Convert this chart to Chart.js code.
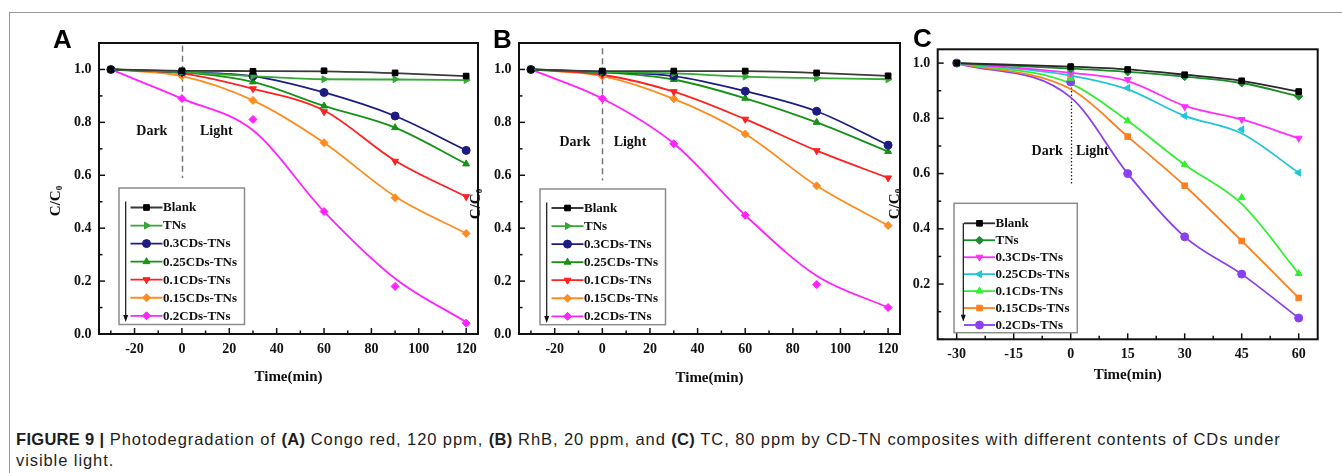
<!DOCTYPE html>
<html>
<head>
<meta charset="utf-8">
<title>Figure 9</title>
<script src="https://cdn.jsdelivr.net/npm/chart.js@4.4.1/dist/chart.umd.min.js"></script>
<style>
  html, body { margin: 0; padding: 0; background: #fff; }
  body { width: 1342px; height: 473px; position: relative; overflow: hidden; }
  #frame { position: absolute; left: 9px; top: 12px; right: 0; bottom: 0;
           border-top: 1.5px solid #9a9a9a; border-left: 1.5px solid #9a9a9a; }
  canvas { position: absolute; top: 0; }
  .letter { position: absolute; font: bold 26px/26px "Liberation Sans", Arial, sans-serif; color: #000; }
  #caption { position: absolute; left: 16px; top: 429px; font: 16.5px/21px "Liberation Sans", Arial, sans-serif;
             letter-spacing: 0.92px; color: #1e1e1e; white-space: nowrap; }
  #caption b { letter-spacing: 0.3px; }
</style>
</head>
<body>
<div id="frame"></div>
<canvas id="chartA" width="450" height="400" style="left:40px"></canvas>
<canvas id="chartB" width="450" height="400" style="left:462px"></canvas>
<canvas id="chartC" width="458" height="400" style="left:884px"></canvas>
<div class="letter" style="left:53px;top:26px">A</div>
<div class="letter" style="left:493px;top:26px">B</div>
<div class="letter" style="left:913px;top:25px">C</div>
<div id="caption"><b>FIGURE 9 |</b> Photodegradation of <b>(A)</b> Congo red, 120 ppm, <b>(B)</b> RhB, 20 ppm, and <b>(C)</b> TC, 80 ppm by CD-TN composites with different contents of CDs under<br>visible light.</div>

<script>
// --- data ---
const seriesNames = ['Blank', 'TNs', '0.3CDs-TNs', '0.25CDs-TNs', '0.1CDs-TNs', '0.15CDs-TNs', '0.2CDs-TNs'];
const timeAB = [-30, 0, 30, 60, 90, 120];
const timeC = [-30, 0, 15, 30, 45, 60];
const xTicksAB = [-20, 0, 20, 40, 60, 80, 100, 120];
const xTicksC = [-30, -15, 0, 15, 30, 45, 60];

// (A) Congo red: measured points and the fitted curves drawn through them
const congoPoints = [
    [1.0, 0.995, 0.993, 0.995, 0.987, 0.975],
    [1.0, 0.99, 0.975, 0.963, 0.963, 0.96],
    [1.0, 0.99, 0.975, 0.913, 0.824, 0.694],
    [1.0, 0.99, 0.953, 0.862, 0.78, 0.643],
    [1.0, 0.985, 0.927, 0.84, 0.653, 0.519],
    [1.0, 0.975, 0.883, 0.723, 0.515, 0.38],
    [1.0, 0.89, 0.811, 0.463, 0.18, 0.041]
];
const congoCurve = [
    [1.0, 0.995, 0.994, 0.993, 0.986, 0.975],
    [1.0, 0.99, 0.975, 0.963, 0.962, 0.96],
    [1.0, 0.99, 0.975, 0.913, 0.824, 0.694],
    [1.0, 0.99, 0.953, 0.862, 0.78, 0.643],
    [1.0, 0.985, 0.927, 0.845, 0.655, 0.519],
    [1.0, 0.975, 0.883, 0.723, 0.52, 0.38],
    [1.0, 0.89, 0.77, 0.463, 0.21, 0.045]
];

// (B) RhB
const rhbPoints = [
    [1.0, 0.994, 0.994, 0.994, 0.987, 0.976],
    [1.0, 0.99, 0.985, 0.973, 0.967, 0.963],
    [1.0, 0.99, 0.975, 0.918, 0.842, 0.714],
    [1.0, 0.99, 0.962, 0.891, 0.8, 0.69],
    [1.0, 0.98, 0.916, 0.812, 0.693, 0.59],
    [1.0, 0.975, 0.889, 0.756, 0.56, 0.41],
    [1.0, 0.89, 0.719, 0.449, 0.187, 0.1]
];
const rhbCurve = [
    [1.0, 0.994, 0.994, 0.994, 0.987, 0.976],
    [1.0, 0.99, 0.985, 0.973, 0.967, 0.963],
    [1.0, 0.99, 0.975, 0.918, 0.842, 0.714],
    [1.0, 0.99, 0.962, 0.891, 0.8, 0.69],
    [1.0, 0.98, 0.916, 0.812, 0.693, 0.59],
    [1.0, 0.975, 0.889, 0.756, 0.56, 0.41],
    [1.0, 0.89, 0.72, 0.449, 0.22, 0.1]
];

// (C) TC
const tcPoints = [
    [1.0, 0.987, 0.977, 0.958, 0.936, 0.897],
    [1.0, 0.98, 0.968, 0.951, 0.928, 0.88],
    [1.0, 0.965, 0.941, 0.842, 0.796, 0.728],
    [1.0, 0.96, 0.91, 0.809, 0.76, 0.603],
    [1.0, 0.945, 0.791, 0.632, 0.513, 0.238],
    [1.0, 0.95, 0.734, 0.556, 0.356, 0.15],
    [1.0, 0.932, 0.6, 0.371, 0.236, 0.077]
];
const tcCurve = [
    [1.0, 0.987, 0.977, 0.958, 0.936, 0.897],
    [1.0, 0.98, 0.968, 0.951, 0.928, 0.88],
    [1.0, 0.965, 0.935, 0.845, 0.796, 0.728],
    [1.0, 0.955, 0.905, 0.809, 0.745, 0.603],
    [1.0, 0.926, 0.791, 0.632, 0.49, 0.238],
    [1.0, 0.906, 0.734, 0.556, 0.356, 0.15],
    [1.0, 0.876, 0.6, 0.371, 0.236, 0.077]
];

// --- styles ---
const colorsAB = ['#000000', '#35a835', '#1c1c82', '#169216', '#ff2020', '#ff8c1f', '#ff22ff'];
const lineColorsAB = ['#3a3a3a', '#35a835', '#1c1c82', '#169216', '#ff2020', '#ff8c1f', '#ff22ff'];
const stylesAB = ['rect', 'triangle', 'circle', 'triangle', 'triangle', 'rectRot', 'rectRot'];
const rotationsAB = [0, 90, 0, 0, 180, 0, 0];
const colorsC = ['#000000', '#178c28', '#ff30ff', '#22c4d8', '#33ee33', '#ff7f1e', '#8a3ff0'];
const lineColorsC = ['#2a2a2a', '#178c28', '#ff30ff', '#22c4d8', '#33ee33', '#ff7f1e', '#8a3ff0'];
const stylesC = ['rect', 'rectRot', 'triangle', 'triangle', 'triangle', 'rect', 'circle'];
const rotationsC = [0, 0, 180, 270, 0, 0, 0];

const SERIF = '"Liberation Serif", "Times New Roman", serif';
Chart.defaults.font.family = SERIF;
Chart.defaults.font.weight = 'bold';
Chart.defaults.color = '#111';

function buildDatasets(times, points, curve, colors, lineColors, styles, rotations) {
    const sets = [];
    seriesNames.forEach((name, i) => {
        sets.push({
            label: name,
            data: times.map((t, j) => ({ x: t, y: curve[i][j] })),
            borderColor: lineColors[i],
            borderWidth: 1.8,
            pointRadius: 0,
            fill: false,
            cubicInterpolationMode: 'monotone',
            order: 2
        });
        sets.push({
            label: name + ' data',
            data: times.map((t, j) => ({ x: t, y: points[i][j] })),
            showLine: false,
            pointStyle: styles[i],
            pointRotation: rotations[i],
            pointRadius: 4,
            pointBackgroundColor: colors[i],
            pointBorderColor: colors[i],
            pointBorderWidth: 1,
            order: 1
        });
    });
    return sets;
}

function tickLine(ctx, x1, y1, x2, y2) {
    ctx.beginPath();
    ctx.moveTo(x1, y1);
    ctx.lineTo(x2, y2);
    ctx.stroke();
}

function isMajor(v, step) {
    return Math.abs(v / step - Math.round(v / step)) < 1e-6;
}

// draws the frame, inward ticks, dark/light marker, boxed legend and y title
const panelDecor = {
    id: 'panelDecor',
    beforeDatasetsDraw(chart, args, o) {
        const { ctx, scales: { x, y } } = chart;
        ctx.save();
        ctx.strokeStyle = o.divider.color;
        ctx.lineWidth = o.divider.width;
        ctx.setLineDash(o.divider.dash);
        const dx = Math.round(x.getPixelForValue(0)) + 0.5;
        tickLine(ctx, dx, y.getPixelForValue(o.divider.from), dx, y.getPixelForValue(o.divider.to));
        ctx.setLineDash([]);
        ctx.fillStyle = '#111';
        ctx.font = 'bold 14px ' + SERIF;
        ctx.textAlign = 'center';
        ctx.textBaseline = 'middle';
        ctx.fillText('Dark', x.getPixelForValue(o.dark[0]), y.getPixelForValue(o.dark[1]));
        ctx.fillText('Light', x.getPixelForValue(o.light[0]), y.getPixelForValue(o.light[1]));
        ctx.restore();
    },
    afterDatasetsDraw(chart, args, o) {
        const { ctx, chartArea: a, scales: { x, y } } = chart;
        ctx.save();

        // legend box
        const L = o.legend;
        const bx = a.left + L.left, by = a.top + L.top;
        ctx.fillStyle = '#fff';
        ctx.fillRect(bx, by, L.w, L.h);
        ctx.strokeStyle = '#8c8c8c';
        ctx.lineWidth = 1.5;
        ctx.strokeRect(bx, by, L.w, L.h);

        const ax = bx + L.arrowX;
        const aBot = by + L.arrowBottom;
        ctx.strokeStyle = '#111';
        ctx.lineWidth = 1.2;
        tickLine(ctx, ax, by + L.arrowTop, ax, aBot - 5);
        ctx.fillStyle = '#111';
        ctx.beginPath();
        ctx.moveTo(ax - 2.5, aBot - 7);
        ctx.lineTo(ax + 2.5, aBot - 7);
        ctx.lineTo(ax, aBot);
        ctx.closePath();
        ctx.fill();

        ctx.font = 'bold 13px ' + SERIF;
        ctx.textAlign = 'left';
        ctx.textBaseline = 'middle';
        seriesNames.forEach((name, i) => {
            const ey = by + L.first + i * L.gap;
            const line = chart.data.datasets[2 * i];
            const pts = chart.data.datasets[2 * i + 1];
            ctx.strokeStyle = line.borderColor;
            ctx.lineWidth = 1.8;
            tickLine(ctx, bx + L.lx0, ey, bx + L.lx1, ey);
            ctx.fillStyle = pts.pointBackgroundColor;
            ctx.strokeStyle = pts.pointBorderColor;
            ctx.lineWidth = 1;
            Chart.helpers.drawPoint(ctx, {
                pointStyle: pts.pointStyle, rotation: pts.pointRotation, radius: 4, borderWidth: 1
            }, bx + (L.lx0 + L.lx1) / 2, ey);
            ctx.fillStyle = '#111';
            ctx.fillText(name, bx + L.lx1 + 0.5, ey + 0.5);
        });

        // frame and inward ticks
        ctx.strokeStyle = '#111';
        ctx.lineWidth = 2;
        ctx.strokeRect(a.left, a.top, a.right - a.left, a.bottom - a.top);
        ctx.lineWidth = 1.5;
        for (let v = Math.ceil(x.min / o.minorX) * o.minorX; v <= x.max; v += o.minorX) {
            const px = x.getPixelForValue(v);
            tickLine(ctx, px, a.bottom, px, a.bottom - (isMajor(v, o.majorX) ? 6 : 3.5));
        }
        for (let v = Math.ceil(y.min / 0.1 - 1e-6) * 0.1; v <= y.max; v += 0.1) {
            const py = y.getPixelForValue(v);
            tickLine(ctx, a.left, py, a.left + (isMajor(v, 0.2) ? 6 : 3.5), py);
        }

        // y title C/C0
        ctx.translate(o.yTitle[0], o.yTitle[1]);
        ctx.rotate(-Math.PI / 2);
        ctx.fillStyle = '#111';
        ctx.textAlign = 'left';
        ctx.textBaseline = 'middle';
        ctx.font = 'bold 15px ' + SERIF;
        const w1 = ctx.measureText('C/C').width;
        ctx.font = 'bold 9px ' + SERIF;
        const w2 = ctx.measureText('0').width;
        const start = -(w1 + w2) / 2;
        ctx.font = 'bold 15px ' + SERIF;
        ctx.fillText('C/C', start, 0);
        ctx.font = 'bold 9px ' + SERIF;
        ctx.fillText('0', start + w1, 4);
        ctx.restore();
    }
};

function makePanel(id, p) {
    return new Chart(document.getElementById(id), {
        type: 'line',
        data: { datasets: p.datasets },
        plugins: [panelDecor],
        options: {
            responsive: false,
            animation: false,
            events: [],
            layout: { padding: { top: p.padTop, right: p.padRight, left: 0, bottom: 0 } },
            scales: {
                x: {
                    type: 'linear',
                    min: -35,
                    max: p.xMax,
                    afterFit: s => { s.height = p.xHeight; },
                    afterBuildTicks: s => { s.ticks = p.xTicks.map(v => ({ value: v })); },
                    grid: { display: false, drawTicks: false },
                    border: { display: false },
                    ticks: { font: { size: 14, weight: 'bold' }, padding: 6.5, maxRotation: 0, color: '#111' },
                    title: {
                        display: true, text: 'Time(min)', color: '#111',
                        font: { size: 15, weight: 'bold' },
                        padding: { top: 0, bottom: p.xTitlePad }
                    }
                },
                y: {
                    min: 0,
                    max: p.yMax,
                    afterFit: s => { s.width = p.yWidth; },
                    grid: { display: false, drawTicks: false },
                    border: { display: false },
                    ticks: {
                        stepSize: 0.2, includeBounds: false, padding: 7.5, color: '#111',
                        font: { size: 14, weight: 'bold' },
                        callback: v => (p.hideZero && Math.abs(v) < 1e-6) ? '' : v.toFixed(1)
                    }
                }
            },
            plugins: {
                legend: { display: false },
                tooltip: { enabled: false },
                panelDecor: p.decor
            }
        }
    });
}

const legendAB = { left: 20, top: 145, w: 125.5, h: 136.5, first: 19.5, gap: 18.05,
                   lx0: 11.5, lx1: 43.5, arrowX: 6.7, arrowTop: 13.5, arrowBottom: 134 };

makePanel('chartA', {
    datasets: buildDatasets(timeAB, congoPoints, congoCurve, colorsAB, lineColorsAB, stylesAB, rotationsAB),
    padTop: 43, padRight: 12, xHeight: 66, yWidth: 59, xMax: 125, yMax: 1.1,
    xTicks: xTicksAB, xTitlePad: 14.3, hideZero: false,
    decor: {
        divider: { from: 1.09, to: 0.59, dash: [6, 4], color: '#777', width: 1.5 },
        dark: [-12.7, 0.765], light: [14.5, 0.765],
        legend: legendAB, minorX: 10, majorX: 20, yTitle: [16, 201]
    }
});

makePanel('chartB', {
    datasets: buildDatasets(timeAB, rhbPoints, rhbCurve, colorsAB, lineColorsAB, stylesAB, rotationsAB),
    padTop: 43, padRight: 12, xHeight: 66, yWidth: 57, xMax: 125, yMax: 1.1,
    xTicks: xTicksAB, xTitlePad: 12.7, hideZero: false,
    decor: {
        divider: { from: 1.08, to: 0.58, dash: [6, 4], color: '#777', width: 1.5 },
        dark: [-11.5, 0.726], light: [11.6, 0.726],
        legend: Object.assign({}, legendAB, { left: 21, top: 146, h: 135.7, first: 19 }),
        minorX: 10, majorX: 20, yTitle: [14, 204]
    }
});

makePanel('chartC', {
    datasets: buildDatasets(timeC, tcPoints, tcCurve, colorsC, lineColorsC, stylesC, rotationsC),
    padTop: 49.3, padRight: 24.3, xHeight: 60.7, yWidth: 53.7, xMax: 65, yMax: 1.05,
    xTicks: xTicksC, xTitlePad: 16.3, hideZero: true,
    decor: {
        divider: { from: 1.0, to: 0.56, dash: [1.5, 2], color: '#222', width: 1.3 },
        dark: [-6.2, 0.68], light: [5.7, 0.68],
        legend: { left: 16.3, top: 154, w: 123.3, h: 129.4, first: 20, gap: 16.95,
                  lx0: 10, lx1: 41, arrowX: 9.3, arrowTop: 20, arrowBottom: 118.4 },
        minorX: 7.5, majorX: 15, yTitle: [11, 204]
    }
});
</script>
</body>
</html>
